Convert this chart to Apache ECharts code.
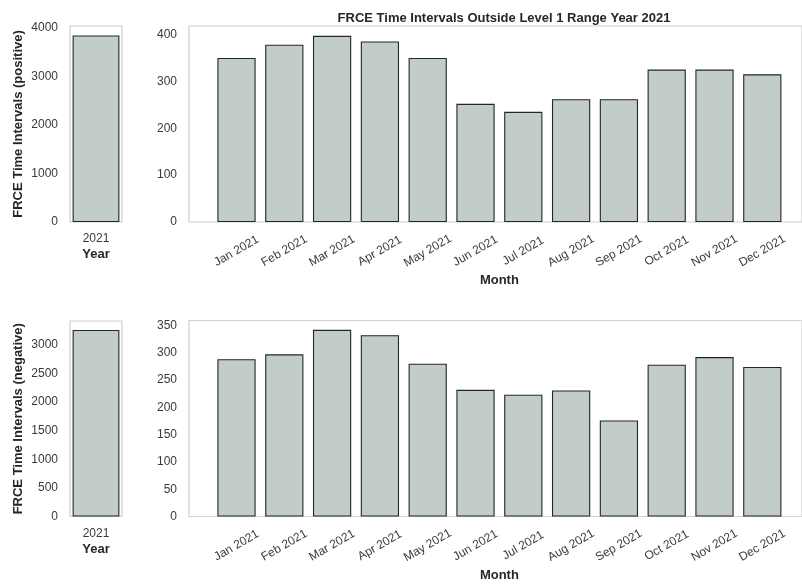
<!DOCTYPE html>
<html>
<head>
<meta charset="utf-8">
<script src="https://cdn.jsdelivr.net/npm/echarts@6/dist/echarts.min.js"></script>
<style>
html,body{margin:0;padding:0;background:#fff;}
#chart{width:802px;height:584px;}
</style>
</head>
<body>
<div id="chart"></div>
<script>
// ---- data ----
var months = ['Jan 2021','Feb 2021','Mar 2021','Apr 2021','May 2021','Jun 2021','Jul 2021','Aug 2021','Sep 2021','Oct 2021','Nov 2021','Dec 2021'];
var years = ['2021'];
var posMonthly = [350, 378, 397, 385, 350, 252, 235, 262, 262, 325, 325, 315];
var negMonthly = [288, 297, 342, 332, 280, 232, 223, 231, 176, 278, 292, 274];
var posYearly = [3845];
var negYearly = [3255];

var FONT = 'Liberation Sans, Arial, sans-serif';
var BAR = '#c1cccb';
var EDGE = '#262626';
var FRAME = '#d0d0d0';
var TICK = '#3a3a3a';
var LABEL = '#262626';

var chart = echarts.init(document.getElementById('chart'), null, {renderer: 'canvas'});

function frameGrid(left, top, width, height) {
  return {left: left, top: top, width: width, height: height, show: true,
          borderColor: FRAME, borderWidth: 1.2, backgroundColor: 'transparent', containLabel: false};
}
function plainGrid(left, top, width, height) {
  return {left: left, top: top, width: width, height: height, show: false, containLabel: false};
}
var barStyle = {color: BAR, borderColor: EDGE, borderWidth: 1.1};

var grids = [
  frameGrid(70, 26, 52, 196),          // 0 top-left
  frameGrid(189, 26, 621, 196),        // 1 top-right frame
  plainGrid(212.6, 26, 573.6, 196),    // 2 top-right data
  frameGrid(70, 321, 52, 195.5),       // 3 bottom-left
  frameGrid(189, 320.5, 621, 196),     // 4 bottom-right frame
  plainGrid(212.6, 320.5, 573.6, 196)  // 5 bottom-right data
];

function hiddenAxis(gridIndex) {
  return {type: 'value', gridIndex: gridIndex, show: false, min: 0, max: 1};
}

function yearAxis(gridIndex) {
  return {type: 'category', gridIndex: gridIndex, data: years,
   axisLine: {show: false}, axisTick: {show: false},
   axisLabel: {fontFamily: FONT, fontSize: 12, color: TICK, margin: 11},
   name: 'Year', nameLocation: 'middle', nameGap: 26,
   nameTextStyle: {fontFamily: FONT, fontSize: 13, fontWeight: 'bold', color: LABEL}};
}
function monthAxis(gridIndex) {
  return {type: 'category', gridIndex: gridIndex, data: months,
   axisLine: {show: false}, axisTick: {show: false},
   axisLabel: {fontFamily: FONT, fontSize: 12, color: TICK, rotate: 30, margin: 29,
               align: 'center', verticalAlign: 'middle', interval: 0},
   name: 'Month', nameLocation: 'middle', nameGap: 52,
   nameTextStyle: {fontFamily: FONT, fontSize: 13, fontWeight: 'bold', color: LABEL}};
}

var xAxes = [yearAxis(0), hiddenAxis(1), monthAxis(2), yearAxis(3), hiddenAxis(4), monthAxis(5)];

function valueAxis(gridIndex, max, interval, offset, name) {
  var ax = {type: 'value', gridIndex: gridIndex, min: 0, max: max, interval: interval,
    offset: offset || 0,
    axisLine: {show: false}, axisTick: {show: false}, splitLine: {show: false},
    axisLabel: {fontFamily: FONT, fontSize: 12, color: TICK, margin: 12, showMaxLabel: false,
                formatter: function (v) { return String(v); }}};
  if (name) {
    ax.name = name; ax.nameLocation = 'middle'; ax.nameGap = 45;
    ax.nameTextStyle = {fontFamily: FONT, fontSize: 13, fontWeight: 'bold', color: LABEL};
  }
  return ax;
}

var yAxes = [
  valueAxis(0, 4040, 1000, 0, 'FRCE Time Intervals (positive)'),
  hiddenAxis(1),
  valueAxis(2, 418, 100, 23.6),
  valueAxis(3, 3412, 500, 0, 'FRCE Time Intervals (negative)'),
  hiddenAxis(4),
  valueAxis(5, 359, 50, 23.6)
];

var option = {
  backgroundColor: '#ffffff',
  animation: false,
  title: {
    text: 'FRCE Time Intervals Outside Level 1 Range Year 2021',
    left: 499, top: 7, textAlign: 'center',
    textStyle: {fontFamily: FONT, fontSize: 13, fontWeight: 'bold', color: LABEL}
  },
  grid: grids,
  xAxis: xAxes,
  yAxis: yAxes,
  series: [
    {type: 'bar', xAxisIndex: 0, yAxisIndex: 0, data: posYearly, barWidth: '90%', itemStyle: barStyle},
    {type: 'bar', xAxisIndex: 2, yAxisIndex: 2, data: posMonthly, barWidth: '80%', itemStyle: barStyle},
    {type: 'bar', xAxisIndex: 3, yAxisIndex: 3, data: negYearly, barWidth: '90%', itemStyle: barStyle},
    {type: 'bar', xAxisIndex: 5, yAxisIndex: 5, data: negMonthly, barWidth: '80%', itemStyle: barStyle}
  ]
};
chart.setOption(option);
</script>
</body>
</html>
